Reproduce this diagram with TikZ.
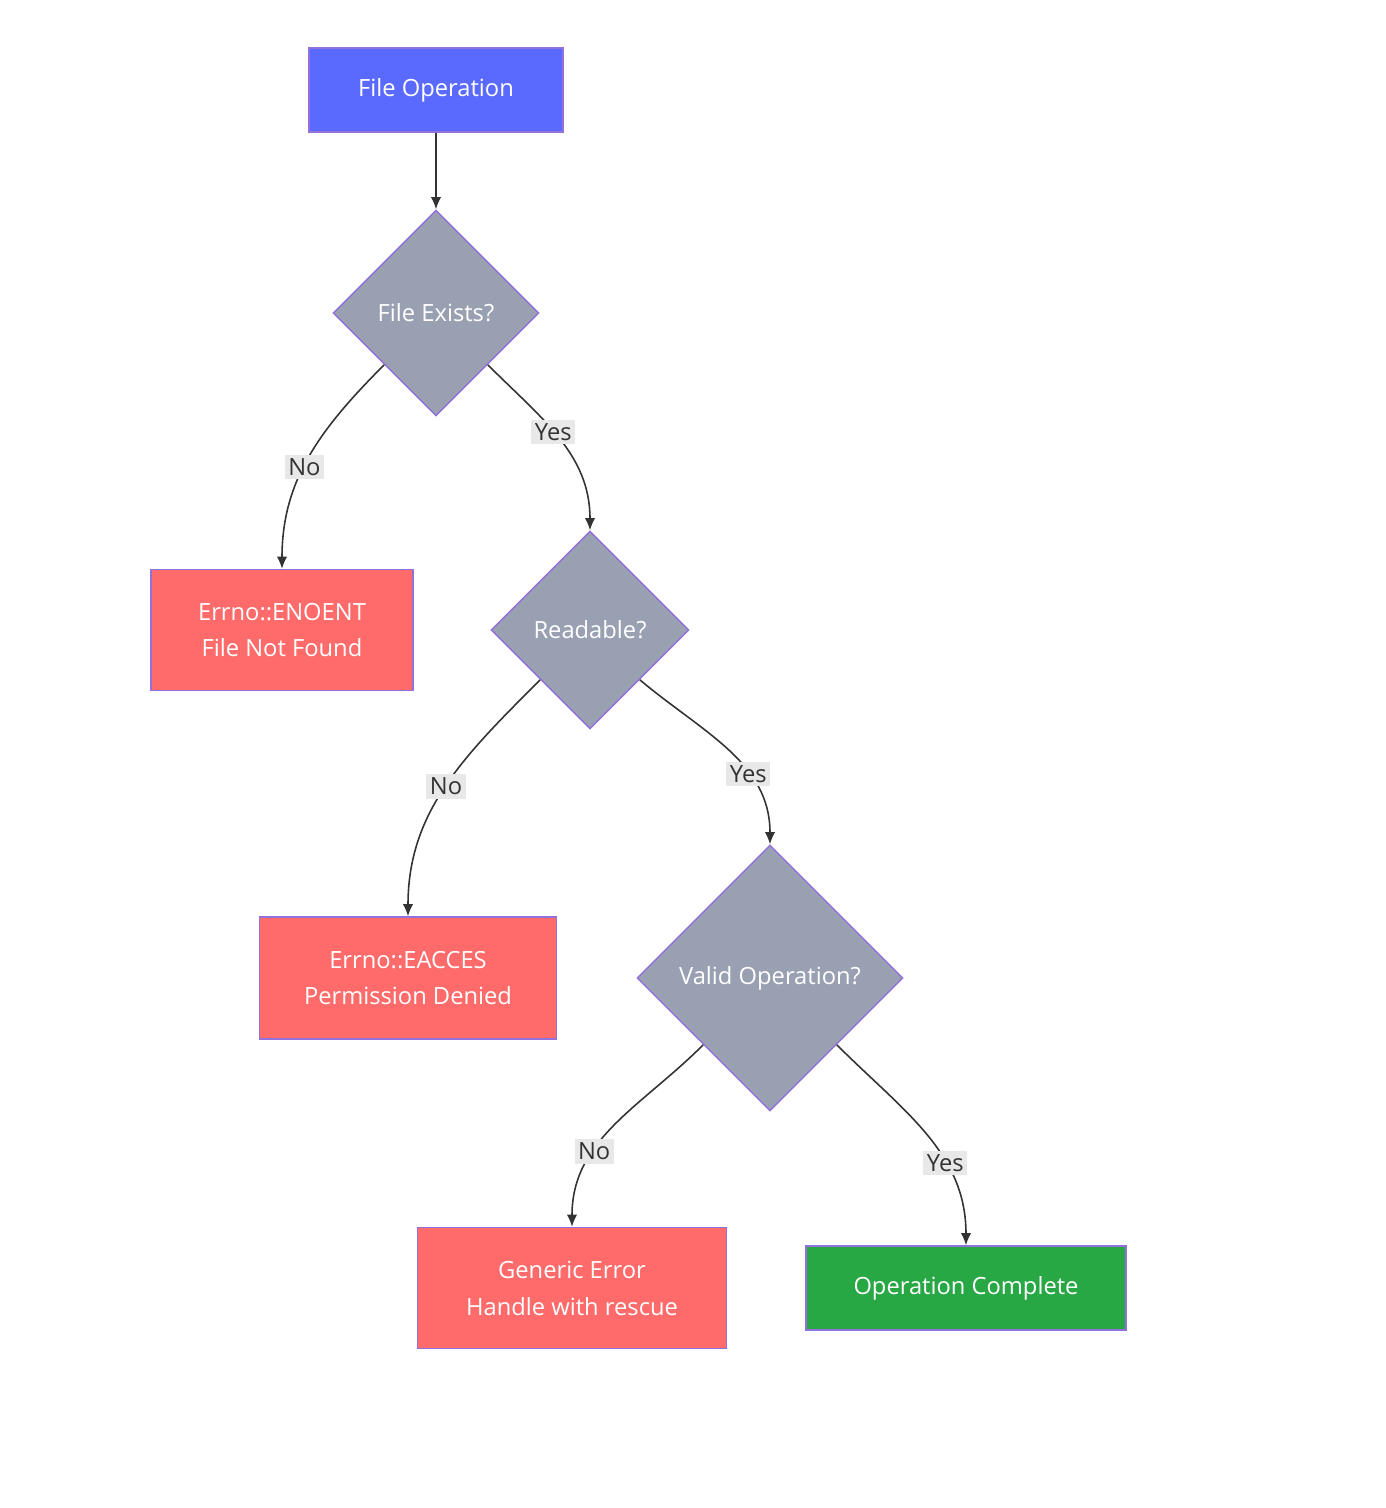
\documentclass[tikz,border=0pt]{standalone}
\usepackage{fontspec}
\setmainfont{Open Sans}
\usetikzlibrary{shapes.geometric,arrows.meta}
\definecolor{startblue}{HTML}{5A6AFF}
\definecolor{decgray}{HTML}{98A0B2}
\definecolor{errred}{HTML}{FF6B6B}
\definecolor{okgreen}{HTML}{28A745}
\definecolor{edgepurple}{HTML}{9370DB}
\definecolor{lblgray}{HTML}{E8E8E8}
\begin{document}
\begin{tikzpicture}[x=0.02cm, y=-0.02cm,
    box/.style={rectangle, draw=edgepurple, line width=0.8pt, text=white, align=center, font=\fontsize{13.5}{21}\selectfont, inner sep=0pt},
    decision/.style={diamond, draw=edgepurple, line width=0.8pt, fill=decgray, text=white, font=\fontsize{13.5}{21}\selectfont, inner sep=0pt, aspect=1},
    arrow/.style={-{Latex[length=7pt,width=6pt]}, line width=0.9pt, draw=black!80},
    lbl/.style={fill=lblgray, text=black!80, font=\fontsize{13.5}{16}\selectfont, inner sep=2pt}
]
\useasboundingbox (0,0) rectangle (1386,1508);

% Nodes
\node[box, fill=startblue, minimum width=5.08cm, minimum height=1.68cm] (start) at (436,90) {File Operation};
\node[decision, minimum width=4.12cm, minimum height=4.12cm] (exists) at (436,313) {File Exists?};
\node[box, fill=errred, minimum width=5.24cm, minimum height=2.42cm] (enoent) at (282,630) {Errno::ENOENT\\File Not Found};
\node[decision, minimum width=3.96cm, minimum height=3.96cm] (readable) at (590,630) {Readable?};
\node[box, fill=errred, minimum width=5.94cm, minimum height=2.44cm] (eacces) at (408,978) {Errno::EACCES\\Permission Denied};
\node[decision, minimum width=5.32cm, minimum height=5.32cm] (valid) at (770,978) {Valid Operation?};
\node[box, fill=errred, minimum width=6.18cm, minimum height=2.42cm] (generic) at (572,1288) {Generic Error\\Handle with rescue};
\node[box, fill=okgreen, minimum width=6.4cm, minimum height=1.68cm] (done) at (966,1288) {Operation Complete};

% Connectors
\draw[arrow] (start) -- (exists);
\draw[arrow] (exists.south west) to[out=-135, in=90] node[lbl, pos=0.55] {No} (enoent.north);
\draw[arrow] (exists.south east) to[out=-45, in=90] node[lbl, pos=0.45] {Yes} (readable.north);
\draw[arrow] (readable.south west) to[out=-135, in=90] node[lbl, pos=0.5] {No} (eacces.north);
\draw[arrow] (readable.south east) to[out=-40, in=90] node[lbl, pos=0.65] {Yes} (valid.north);
\draw[arrow] (valid.south west) to[out=-135, in=90] node[lbl, pos=0.65] {No} (generic.north);
\draw[arrow] (valid.south east) to[out=-45, in=90] node[lbl, pos=0.65] {Yes} (done.north);
\end{tikzpicture}
\end{document}
